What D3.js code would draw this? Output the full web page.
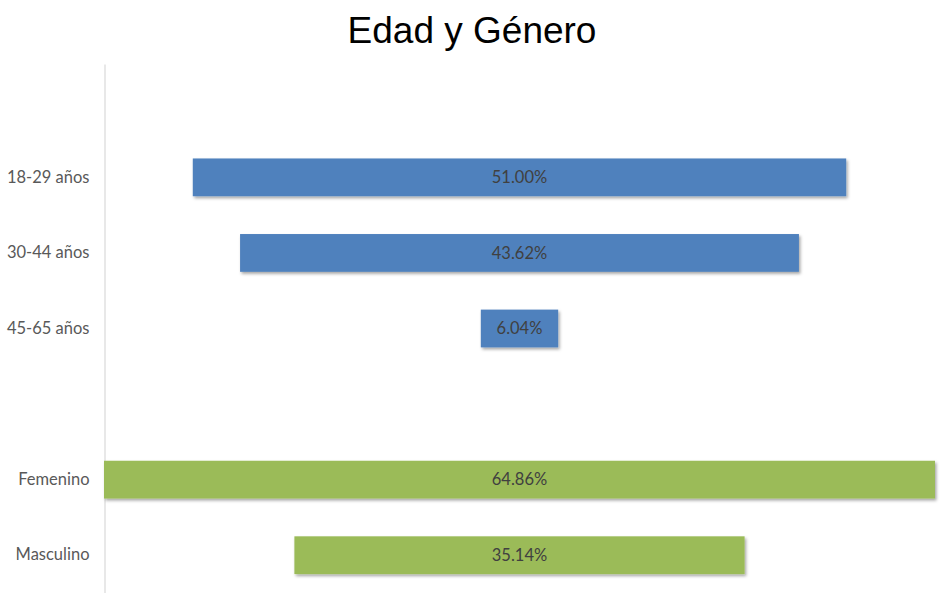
<!DOCTYPE html>
<html>
<head>
<meta charset="utf-8">
<script src="https://cdn.jsdelivr.net/npm/d3@7"></script>
<style>
  body { margin: 0; background: #fff; }
  svg { display: block; }
</style>
</head>
<body>
<script>
// data - empty slots keep the gap at the top and between the two groups
var categories = ["", "18-29 años", "30-44 años", "45-65 años", "", "Femenino", "Masculino"];
var values = [null, 51.00, 43.62, 6.04, null, 64.86, 35.14];
var groups = [null, "edad", "edad", "edad", null, "genero", "genero"];
var title = "Edad y Género";

var width = 940, height = 593;
var colors = { edad: "#4f81bd", genero: "#9bbb59" };

var svg = d3.select("body").append("svg")
    .attr("width", width)
    .attr("height", height);

var defs = svg.append("defs");
var f = defs.append("filter").attr("id", "shadow")
    .attr("x", "-5%").attr("y", "-20%").attr("width", "110%").attr("height", "150%");
f.append("feDropShadow")
    .attr("dx", 1.5).attr("dy", 2)
    .attr("stdDeviation", 1.5)
    .attr("flood-color", "#000")
    .attr("flood-opacity", 0.35);

svg.append("text")
    .attr("x", 472)
    .attr("y", 43)
    .attr("text-anchor", "middle")
    .style("font-family", "'Liberation Sans', Arial, sans-serif")
    .style("font-size", "37px")
    .style("fill", "#000")
    .text(title);

var y = d3.scaleBand()
    .domain(d3.range(categories.length))
    .range([64, 593])
    .paddingInner(0.5)
    .paddingOuter(0.25);

var maxV = d3.max(values);
var x = d3.scaleLinear()
    .domain([-maxV / 2, maxV / 2])
    .range([104, 935]);

var axis = svg.append("g")
    .attr("transform", "translate(104.5,0)")
    .call(d3.axisLeft(y)
        .tickSize(0)
        .tickPadding(15)
        .tickFormat(function(i) { return categories[i]; }));
axis.select(".domain").attr("stroke", "#d9d9d9").attr("stroke-width", 1.2);
axis.selectAll("text")
    .style("font-family", "Lato, 'Open Sans', sans-serif")
    .style("font-size", "16.5px")
    .style("fill", "#595959");

var rows = d3.range(categories.length).filter(function(i) { return values[i] != null; });

svg.selectAll("rect.bar")
    .data(rows)
  .enter().append("rect")
    .attr("class", "bar")
    .attr("x", function(i) { return x(-values[i] / 2); })
    .attr("y", function(i) { return y(i); })
    .attr("width", function(i) { return x(values[i] / 2) - x(-values[i] / 2); })
    .attr("height", y.bandwidth())
    .attr("fill", function(i) { return colors[groups[i]]; })
    .attr("filter", "url(#shadow)");

svg.selectAll("text.val")
    .data(rows)
  .enter().append("text")
    .attr("class", "val")
    .attr("x", x(0))
    .attr("y", function(i) { return y(i) + y.bandwidth() / 2; })
    .attr("dy", "0.35em")
    .attr("text-anchor", "middle")
    .style("font-family", "Lato, 'Open Sans', sans-serif")
    .style("font-size", "16.5px")
    .style("fill", "#404040")
    .text(function(i) { return values[i].toFixed(2) + "%"; });
</script>
</body>
</html>
